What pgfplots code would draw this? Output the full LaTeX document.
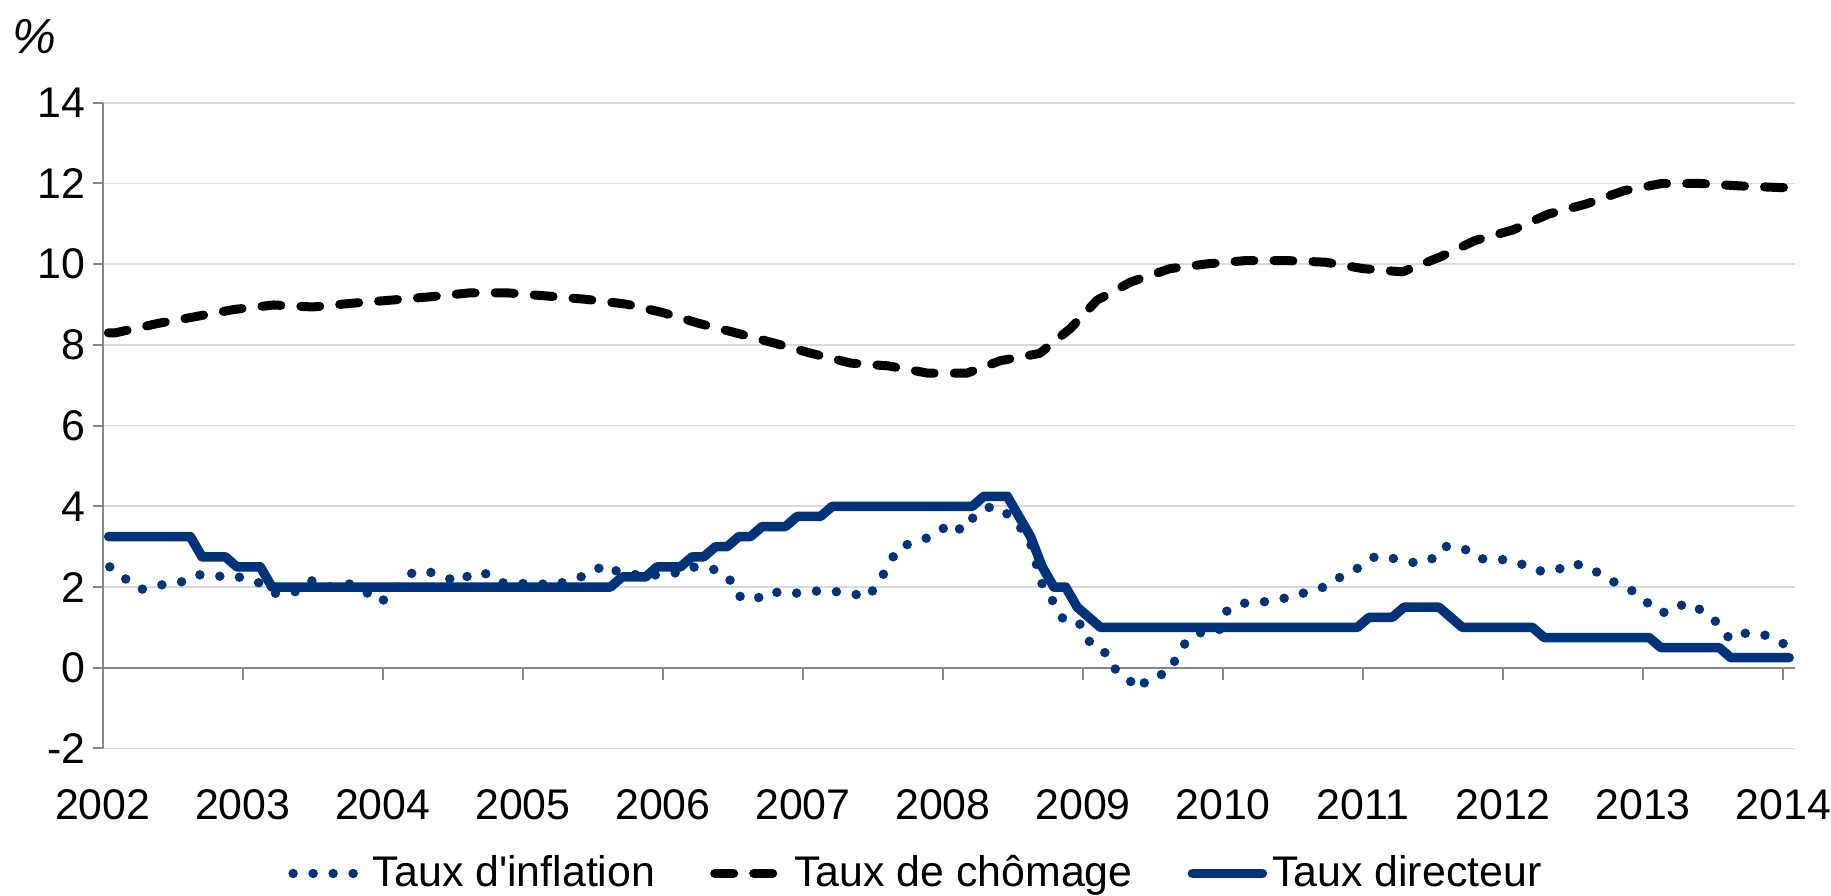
\documentclass[border=0pt]{standalone}
\usepackage{fontspec}
\setmainfont{Liberation Sans}
\usepackage{pgfplots}
\pgfplotsset{compat=1.18}
\definecolor{navy}{RGB}{0,51,122}
\definecolor{gridgray}{RGB}{217,217,217}
\definecolor{axisgray}{RGB}{134,134,134}
\begin{document}
\begin{tikzpicture}[x=1mm,y=1mm]
\useasboundingbox (0,0) rectangle (183.1,89.6);
\node[font=\fontsize{14}{16}\selectfont\itshape] at (3.4,85.9) {\%};
\begin{axis}[
  at={(10.28mm,14.75mm)}, anchor=south west,
  scale only axis, width=169.22mm, height=64.57mm,
  xmin=2002, xmax=2014.0833, ymin=-2, ymax=14,
  ytick={-2,0,...,14},
  xtick={2002,...,2014},
  /pgf/number format/1000 sep={},
  /pgf/number format/assume math mode=true,
  ticklabel style={font=\fontsize{12.2}{14}\selectfont},
  axis y line*=left, axis x line*=bottom,
  x axis line style={draw=none},
  y axis line style={draw=axisgray, line width=0.2mm, -},
  ymajorgrids, major grid style={draw=gridgray, line width=0.17mm},
  xtick style={draw=none},
  ytick style={draw=axisgray, line width=0.2mm},
  tick align=outside, major tick length=1mm,
  xticklabel style={yshift=-1.85mm},
  yticklabel style={xshift=0.5mm},
  legend style={at={(0.4814,-0.1936)}, anchor=center, draw=none, fill=none,
    legend columns=3, font=\fontsize{12.2}{14}\selectfont,
    nodes={inner sep=0.5mm},
    /tikz/every even column/.append style={column sep=5mm}},
  legend cell align=left,
  legend image code/.code={\draw[#1] (0mm,0mm) -- (7mm,0mm);},
]
\draw[axisgray, line width=0.2mm] (axis cs:2002,0) -- (axis cs:2014.0833,0);
\pgfplotsinvokeforeach{2003,2004,2005,2006,2007,2008,2009,2010,2011,2012,2013,2014}{
  \draw[axisgray, line width=0.2mm] (axis cs:#1,0) -- ++(0pt,-1.2mm);
}
\addplot[navy, line width=0.95mm, line cap=round, dash pattern=on 0pt off 2mm] coordinates {
(2002.05,2.50)(2002.16,2.21)(2002.27,1.94)(2002.41,2.05)(2002.55,2.11)(2002.67,2.31)
(2002.81,2.26)(2002.92,2.30)(2003.02,2.20)(2003.13,2.09)(2003.24,1.83)(2003.38,1.89)
(2003.50,2.17)(2003.62,2.00)(2003.74,2.11)(2003.87,1.90)(2003.98,1.62)(2004.09,1.89)
(2004.17,2.30)(2004.28,2.42)(2004.41,2.30)(2004.54,2.11)(2004.64,2.36)(2004.76,2.32)
(2004.85,2.11)(2004.94,2.07)(2005.08,2.11)(2005.22,2.03)(2005.35,2.20)(2005.48,2.31)
(2005.58,2.56)(2005.70,2.34)(2005.83,2.30)(2005.96,2.30)(2006.08,2.34)(2006.20,2.50)
(2006.35,2.46)(2006.47,2.24)(2006.53,1.79)(2006.65,1.67)(2006.76,1.90)(2006.90,1.82)
(2007.04,1.90)(2007.18,1.90)(2007.33,1.86)(2007.46,1.74)(2007.54,2.11)(2007.61,2.54)
(2007.68,2.98)(2007.81,3.13)(2007.94,3.28)(2008.05,3.59)(2008.14,3.39)(2008.23,3.79)
(2008.35,4.01)(2008.47,3.79)(2008.56,3.44)(2008.63,3.03)(2008.67,2.52)(2008.71,2.05)
(2008.79,1.62)(2008.86,1.19)(2008.97,1.13)(2009.03,0.68)(2009.14,0.49)(2009.20,0.04)
(2009.31,-0.22)(2009.39,-0.54)(2009.48,-0.22)(2009.60,-0.14)(2009.67,0.26)(2009.74,0.68)
(2009.85,0.89)(2009.97,0.92)(2010.02,1.39)(2010.12,1.60)(2010.25,1.60)(2010.37,1.70)
(2010.49,1.74)(2010.61,1.90)(2010.74,2.02)(2010.85,2.28)(2010.98,2.50)(2011.09,2.77)
(2011.23,2.70)(2011.37,2.60)(2011.48,2.66)(2011.57,3.01)(2011.71,2.98)(2011.82,2.70)
(2011.96,2.70)(2012.10,2.62)(2012.23,2.40)(2012.37,2.40)(2012.49,2.60)(2012.63,2.46)
(2012.74,2.20)(2012.87,2.01)(2012.99,1.76)(2013.08,1.42)(2013.18,1.35)(2013.30,1.61)
(2013.42,1.42)(2013.53,1.11)(2013.62,0.70)(2013.74,0.87)(2013.88,0.80)(2014.01,0.58)
};
\addlegendentry{Taux d\textquotesingle inflation}
\addplot[black, line width=0.9mm, line cap=round, line join=round, dash pattern=on 1.9mm off 2.0mm] coordinates {
(2002.04,8.30)(2002.09,8.30)(2002.39,8.53)(2002.66,8.70)(2002.94,8.88)(2003.22,8.99)
(2003.50,8.94)(2003.77,9.03)(2004.06,9.11)(2004.33,9.19)(2004.62,9.29)(2004.89,9.29)
(2005.18,9.21)(2005.45,9.13)(2005.74,9.01)(2006.00,8.80)(2006.26,8.53)(2006.53,8.29)
(2006.80,8.04)(2007.06,7.79)(2007.34,7.55)(2007.61,7.48)(2007.89,7.30)(2008.17,7.30)
(2008.41,7.61)(2008.69,7.79)(2008.91,8.41)(2009.10,9.11)(2009.34,9.56)(2009.62,9.89)
(2009.89,10.01)(2010.16,10.09)(2010.45,10.09)(2010.73,10.05)(2011.00,9.89)(2011.28,9.81)
(2011.55,10.18)(2011.80,10.59)(2012.07,10.85)(2012.32,11.24)(2012.59,11.49)(2012.86,11.82)
(2013.13,12.00)(2013.41,12.00)(2013.69,11.94)(2013.97,11.90)(2014.04,11.90)
};
\addlegendentry{Taux de chômage}
\addplot[navy, line width=0.95mm, line cap=round, line join=round] table[x expr=2002+(\thisrow{k}+0.5)/12, y=v] {
k v
0 3.25
7 3.25
8 2.75
10 2.75
11 2.5
13 2.5
14 2.0
43 2.0
44 2.25
46 2.25
47 2.5
49 2.5
50 2.75
51 2.75
52 3.0
53 3.0
54 3.25
55 3.25
56 3.5
58 3.5
59 3.75
61 3.75
62 4.0
74 4.0
75 4.25
77 4.25
78 3.75
79 3.25
80 2.5
81 2.0
82 2.0
83 1.5
84 1.25
85 1.0
107 1.0
108 1.25
110 1.25
111 1.5
114 1.5
115 1.25
116 1.0
122 1.0
123 0.75
132 0.75
133 0.5
138 0.5
139 0.25
144 0.25
};
\addlegendentry{Taux directeur}
\end{axis}
\end{tikzpicture}
\end{document}
